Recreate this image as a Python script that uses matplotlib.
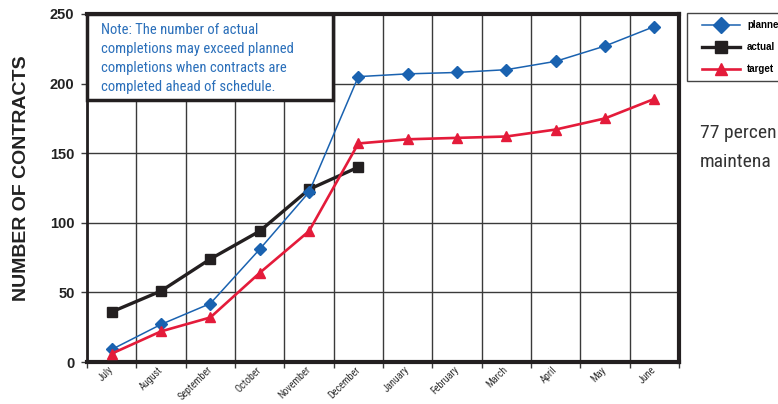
import matplotlib
matplotlib.use("Agg")
import matplotlib.pyplot as plt
from matplotlib import font_manager
from matplotlib.patches import Rectangle
import numpy as np

months = ["July", "August", "September", "October", "November", "December",
          "January", "February", "March", "April", "May", "June"]
planned = [9, 27, 42, 81, 122, 205, 207, 208, 210, 216, 227, 241]
actual = [36, 51, 74, 94, 124, 140]
target = [6, 22, 32, 64, 94, 157, 160, 161, 162, 167, 175, 189]
y_ticks = [0, 50, 100, 150, 200, 250]
note_lines = ["Note: The number of actual", "completions may exceed planned",
              "completions when contracts are", "completed ahead of schedule."]
side_lines = ["77 percen", "maintena"]

# pick a condensed face deterministically; size factors tuned for Roboto Condensed
names = {f.name for f in font_manager.fontManager.ttflist}
if "Roboto Condensed" in names:
    cond_props = dict(family=["Roboto Condensed", "DejaVu Sans"])
    k = 1.0
elif "Liberation Sans Narrow" in names:
    cond_props = dict(family=["Liberation Sans Narrow", "DejaVu Sans"])
    k = 0.9
else:
    cond_props = dict(family=["Liberation Sans", "DejaVu Sans"])
    k = 0.78

plt.rcParams['font.family'] = ['Liberation Sans', 'DejaVu Sans']

BLUE = "#1a62b0"
RED = "#e41b3a"
BLACK = "#231f20"
GRID = "#3a3a3a"

fig = plt.figure(figsize=(7.78, 4.04), dpi=100)
ax = fig.add_axes([87/778, 42/404, 592/778, 348/404])

x = np.arange(len(months))
ax.plot(x, planned, color=BLUE, lw=1.1, marker="D", ms=6.5, mec=BLUE, mfc=BLUE,
        label="planned", zorder=4)
ax.plot(x[:len(actual)], actual, color=BLACK, lw=2.4, marker="s", ms=7, mec=BLACK,
        mfc=BLACK, label="actual", zorder=3)
ax.plot(x, target, color=RED, lw=1.9, marker="^", ms=7, mec=RED, mfc=RED,
        label="target", zorder=5)

ax.set_xlim(-0.5, len(months) - 0.5)
ax.set_ylim(0, 250)
ax.set_yticks(y_ticks)
ax.set_yticklabels([str(v) for v in y_ticks], fontsize=10.5, fontweight="bold", color="#222")
ax.set_xticks(x)
ax.set_xticklabels(months, rotation=45, ha="right", va="center", rotation_mode="anchor",
                   fontsize=7.3 * k, color="#333", **cond_props)
ax.tick_params(axis="x", which="major", length=0, pad=4.5)
ax.set_xticks(np.arange(-0.5, len(months) + 0.5, 1), minor=True)
ax.tick_params(axis="x", which="minor", length=4, width=1, color=GRID)
ax.tick_params(axis="y", length=4, width=1, color=GRID, pad=5)
ax.grid(True, which="minor", axis="x", color=GRID, lw=1.0)
ax.grid(True, which="major", axis="y", color=GRID, lw=1.0)
ax.set_axisbelow(True)

for side, w in [("left", 2.0), ("bottom", 3.0), ("right", 3.0), ("top", 3.0)]:
    ax.spines[side].set_linewidth(w)
    ax.spines[side].set_color(BLACK)

ax.set_ylabel("NUMBER OF CONTRACTS", fontsize=14, fontweight="bold", color="#222")
ax.yaxis.set_label_coords(-0.097, 0.527)

ax.text(0.0235, 1 - 9/348, "\n".join(note_lines),
        transform=ax.transAxes, ha="left", va="top", fontsize=10.5 * k,
        color="#2a6fba", linespacing=1.46 / k, zorder=7, **cond_props)
ax.add_patch(Rectangle((0, 0.753), 0.4155, 0.247, transform=ax.transAxes,
                       fc="white", ec=BLACK, lw=2.5, zorder=6, clip_on=False))

# legend frame drawn separately so the inner padding matches
fig.patches.append(Rectangle((687/778, 1 - 81/404), 110/778, 68/404,
                             transform=fig.transFigure, fc="white", ec="#444", lw=1.0,
                             clip_on=False, zorder=1))
leg = fig.legend(loc="upper left", bbox_to_anchor=(702/778, 1 - 20/404),
                 prop={"weight": "bold", "size": 7}, frameon=False,
                 handlelength=3.9, markerscale=1.3,
                 borderpad=0, labelspacing=1.25, handletextpad=0.72, borderaxespad=0)
leg.set_zorder(3)

fig.text(700/778, 1 - 138/404, side_lines[0], fontsize=14 * k, color="#333",
         va="baseline", **cond_props)
fig.text(700/778, 1 - 167/404, side_lines[1], fontsize=14 * k, color="#333",
         va="baseline", **cond_props)

fig.savefig("out.png", dpi=100)
